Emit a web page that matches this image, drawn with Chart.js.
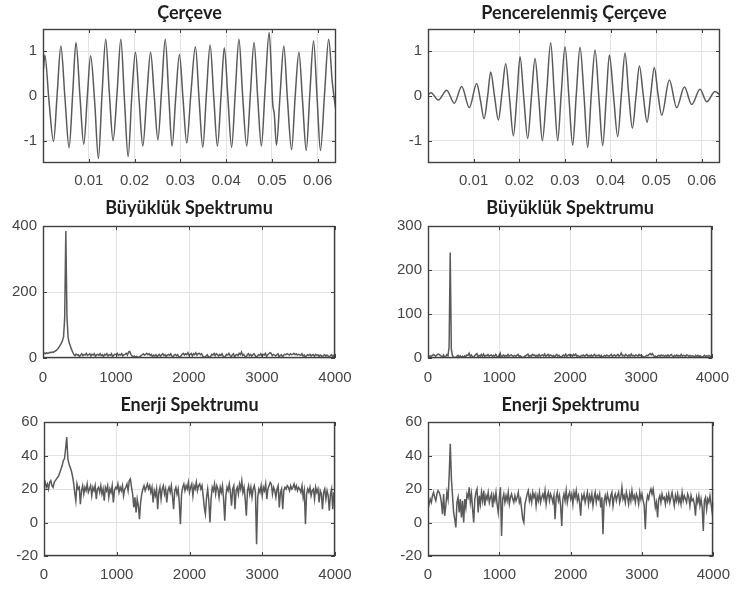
<!DOCTYPE html>
<html>
<head>
<meta charset="utf-8">
<script src="https://cdn.jsdelivr.net/npm/chart.js@4.4.1/dist/chart.umd.min.js"></script>
<style>
  html, body { margin: 0; padding: 0; background: #ffffff; }
  #fig { position: relative; width: 740px; height: 589px; overflow: hidden; background: #ffffff; }
  .cell { position: absolute; }
  canvas { display: block; }
</style>
</head>
<body>
<div id="fig">
  <div class="cell" style="left:0;top:0"><canvas id="frame" width="370" height="195"></canvas></div>
  <div class="cell" style="left:370px;top:0"><canvas id="windowed" width="370" height="195"></canvas></div>
  <div class="cell" style="left:0;top:195px"><canvas id="magRaw" width="370" height="190"></canvas></div>
  <div class="cell" style="left:370px;top:195px"><canvas id="magWin" width="370" height="190"></canvas></div>
  <div class="cell" style="left:0;top:385px"><canvas id="engRaw" width="370" height="204"></canvas></div>
  <div class="cell" style="left:370px;top:385px"><canvas id="engWin" width="370" height="204"></canvas></div>
</div>
<script>
// ---- panel titles ----
const titles = ['Çerçeve', 'Pencerelenmiş Çerçeve', 'Büyüklük Spektrumu', 'Büyüklük Spektrumu', 'Enerji Spektrumu', 'Enerji Spektrumu'];

// ---- tick values ----
const timeTicks = [0.01, 0.02, 0.03, 0.04, 0.05, 0.06];
const waveTicks = [-1, 0, 1];
const freqTicks = [0, 1000, 2000, 3000, 4000];
const magRawTicks = [0, 200, 400];
const magWinTicks = [0, 100, 200, 300];
const energyTicks = [-20, 0, 20, 40, 60];

// ---- frame, time [s] / amplitude pairs (peaks, troughs and crossings) ----
const frame = [
  [0.000125, 0.62], [0.0004, 0.92], [0.0013, -0.10], [0.0023, -1.02], [0.0031, 0.05],
  [0.0039, 1.12], [0.0048, -0.05], [0.0057, -1.16], [0.0065, 0.08],
  [0.0072, 1.20], [0.0081, -0.05], [0.0089, -1.08], [0.0097, 0.02],
  [0.0104, 0.90], [0.0113, -0.15], [0.0121, -1.40], [0.0129, 0.05],
  [0.0137, 1.27], [0.0145, 0.05], [0.0153, -1.00], [0.0162, 0.10],
  [0.0170, 1.27], [0.0178, -0.10], [0.0186, -1.36], [0.0194, 0.00],
  [0.0202, 0.98], [0.0210, -0.10], [0.0218, -1.12], [0.0227, 0.05],
  [0.0235, 0.98], [0.0243, 0.00], [0.0251, -0.98], [0.0259, 0.12],
  [0.0267, 1.27], [0.0275, -0.05], [0.0282, -1.12], [0.0290, -0.02],
  [0.0298, 0.93], [0.0306, -0.08], [0.0314, -1.05], [0.0323, 0.05],
  [0.0333, 1.10], [0.0341, -0.08], [0.0349, -1.15], [0.0357, 0.05],
  [0.0365, 1.14], [0.0373, -0.03], [0.0381, -1.12], [0.0389, 0.02],
  [0.0396, 1.08], [0.0404, -0.06], [0.0412, -1.15], [0.0420, 0.08],
  [0.0428, 1.27], [0.0436, 0.02], [0.0445, -1.12], [0.0453, 0.05],
  [0.0461, 1.20], [0.0469, -0.04], [0.0477, -1.12], [0.0485, 0.12],
  [0.0494, 1.42], [0.0502, -0.20], [0.0505, -0.38], [0.0510, -1.10], [0.0518, 0.05],
  [0.0526, 1.12], [0.0534, -0.08], [0.0543, -1.20], [0.0551, 0.02],
  [0.0559, 0.98], [0.0567, -0.12], [0.0575, -1.22], [0.0583, 0.08],
  [0.0591, 1.23], [0.0599, -0.10], [0.0606, -1.22], [0.0615, 0.05],
  [0.0624, 1.27], [0.0632, 0.30], [0.0640, -0.35]
];

// ---- windowed frame, time [s] / amplitude pairs ----
const windowed = [
  [0.000125, 0.04], [0.00066, 0.07], [0.00226, -0.09], [0.00409, 0.13], [0.00577, -0.16], [0.00738, 0.21], [0.00906, -0.26], [0.01067, 0.28],
  [0.0115, -0.10], [0.01228, -0.51], [0.0131, 0.02], [0.01374, 0.54],
  [0.0146, -0.02], [0.01542, -0.54], [0.0162, 0.05], [0.01703, 0.72],
  [0.0179, -0.08], [0.01871, -0.89], [0.0195, 0.00], [0.02017, 0.88],
  [0.0210, -0.05], [0.02185, -0.95], [0.0227, 0.02], [0.02345, 0.84],
  [0.0243, -0.08], [0.02506, -1.00], [0.0260, 0.08], [0.02689, 1.19],
  [0.0277, 0.00], [0.02842, -1.00], [0.0292, 0.05], [0.03003, 1.10],
  [0.0309, -0.05], [0.03171, -1.10], [0.0325, 0.03], [0.03332, 1.09],
  [0.0342, 0.00], [0.03500, -1.15], [0.0358, 0.05], [0.03661, 1.03],
  [0.0375, -0.10], [0.03829, -1.11], [0.0391, 0.02], [0.03975, 0.92],
  [0.0407, -0.04], [0.04158, -0.91], [0.0424, 0.05], [0.04318, 0.96],
  [0.0440, 0.02], [0.04479, -0.72], [0.0456, 0.00], [0.04633, 0.67],
  [0.0472, 0.00], [0.04801, -0.59], [0.0488, 0.02], [0.04961, 0.64],
  [0.0504, 0.05], [0.05122, -0.43], [0.05290, 0.36], [0.05451, -0.26], [0.05619, 0.20],
  [0.05780, -0.19], [0.05962, 0.15], [0.06109, -0.13], [0.06291, 0.10], [0.0640, 0.02]
];

// ---- spectra: 257 bins from 0 to 4000 Hz, 16 bins (250 Hz) per row ----
const fs = 8000, nfft = 512;

const magRaw = [
  14, 15, 13, 16, 14, 15, 17, 16, 18, 17, 20, 21, 24, 28, 33, 38,
  44, 52, 64, 120, 385, 125, 62, 46, 36, 26, 18, 11, 7, 12, 9, 10,
  4, 9, 13, 7, 11, 9, 14, 8, 10, 13, 6, 11, 9, 13, 5, 10,
  11, 8, 13, 7, 10, 4, 11, 9, 13, 6, 10, 8, 13, 4, 9, 11,
  10, 14, 8, 11, 9, 13, 6, 10, 11, 14, 9, 18, 20, 11, 7, 3,
  6, 2, 5, 3, 1, 4, 7, 10, 13, 9, 11, 14, 10, 13, 8, 11,
  4, 9, 6, 10, 3, 8, 11, 5, 10, 13, 7, 10, 4, 9, 11, 8,
  13, 6, 3, 9, 11, 7, 10, 4, 1, 7, 11, 14, 9, 13, 10, 16,
  8, 11, 14, 6, 13, 10, 16, 9, 13, 14, 10, 13, 6, 3, 2, 6,
  10, 4, 1, 5, 11, 9, 14, 7, 13, 10, 6, 11, 8, 13, 5, 1,
  6, 11, 9, 14, 8, 3, 10, 13, 3, 9, 11, 7, 14, 10, 18, 8,
  11, 5, 2, 9, 13, 7, 11, 6, 10, 13, 8, 0, 6, 10, 8, 13,
  6, 11, 9, 14, 5, 10, 13, 16, 14, 7, 11, 9, 6, 10, 13, 3,
  8, 10, 3, 9, 11, 10, 13, 11, 9, 13, 10, 11, 14, 10, 13, 9,
  11, 10, 8, 13, 6, 9, 1, 7, 10, 8, 11, 6, 9, 10, 5, 11,
  8, 10, 4, 9, 7, 3, 8, 10, 5, 9, 6, 2, 7, 10, 3, 8,
  4
];

const magWin = [
  3, 4, 5, 4, 6, 8, 6, 4, 7, 9, 8, 6, 4, 2, 7, 2,
  3, 8, 5, 25, 240, 20, 6, 2, 1, 1, 4, 6, 2, 5, 1, 4,
  1, 5, 3, 7, 6, 11, 4, 7, 3, 1, 5, 8, 10, 2, 6, 4,
  8, 4, 9, 3, 6, 5, 8, 4, 6, 7, 3, 6, 4, 8, 4, 2,
  6, 11, 0, 5, 7, 4, 6, 4, 8, 4, 6, 7, 5, 4, 6, 4,
  6, 8, 4, 5, 3, 1, 1, 4, 5, 7, 9, 4, 6, 4, 8, 6,
  7, 3, 6, 4, 8, 4, 6, 7, 5, 9, 4, 6, 8, 4, 7, 6,
  4, 6, 1, 6, 8, 4, 6, 3, 1, 5, 7, 4, 9, 4, 6, 8,
  5, 7, 4, 8, 6, 9, 4, 6, 4, 2, 6, 5, 7, 4, 6, 8,
  4, 6, 4, 7, 3, 6, 8, 4, 6, 5, 7, 3, 6, 0, 4, 6,
  4, 7, 5, 4, 6, 8, 3, 6, 7, 4, 6, 8, 4, 6, 11, 5,
  6, 4, 8, 6, 4, 7, 4, 9, 5, 6, 4, 7, 6, 4, 8, 5,
  7, 4, 3, 1, 4, 6, 5, 8, 10, 7, 10, 6, 3, 4, 1, 5,
  6, 4, 7, 5, 6, 4, 6, 4, 7, 4, 6, 8, 5, 3, 6, 4,
  7, 4, 6, 4, 8, 4, 6, 5, 4, 7, 6, 3, 6, 4, 5, 4,
  2, 6, 4, 6, 3, 5, 3, 1, 4, 6, 3, 5, 4, 6, 4, 2,
  4
];

const energyRaw = [
  22, 24, 21, 23, 20, 24, 25, 22, 21, 24, 25, 26, 27, 28, 30, 32,
  34, 37, 38, 44, 51, 38, 35, 33, 31, 28, 24, 18, 13, 23, 20, 21,
  11, 19, 22, 17, 21, 19, 23, 18, 20, 22, 16, 21, 19, 22, 14, 20,
  21, 18, 22, 17, 20, 13, 21, 19, 22, 15, 20, 18, 22, 12, 19, 21,
  20, 23, 18, 21, 19, 22, 16, 20, 21, 23, 19, 25, 26, 21, 17, 9,
  15, 6, 14, 10, 2, 12, 17, 20, 22, 19, 21, 23, 20, 22, 18, 21,
  12, 19, 16, 20, 8, 18, 21, 14, 20, 22, 17, 20, 12, 19, 21, 18,
  22, 16, 8, 19, 21, 17, 20, 12, -1, 17, 21, 23, 19, 22, 20, 24,
  18, 21, 23, 16, 22, 20, 24, 19, 22, 23, 20, 22, 16, 9, 5, 15,
  20, 13, 0, 14, 21, 19, 23, 17, 22, 20, 15, 21, 18, 22, 14, 1,
  16, 21, 19, 23, 18, 10, 20, 22, 8, 19, 21, 17, 23, 20, 25, 18,
  21, 14, 4, 19, 22, 17, 21, 15, 20, 22, 18, -13, 15, 20, 18, 22,
  16, 21, 19, 23, 14, 20, 22, 24, 23, 17, 21, 19, 15, 20, 22, 9,
  18, 20, 8, 19, 21, 20, 22, 21, 19, 22, 20, 21, 23, 20, 22, 19,
  21, 20, 18, 22, 15, 19, -1, 17, 20, 18, 21, 16, 19, 20, 14, 21,
  18, 20, 12, 19, 17, 8, 18, 20, 14, 19, 16, 7, 17, 20, 8, 18,
  12
];

const energyWin = [
  8, 11, 14, 12, 16, 18, 15, 13, 17, 19, 18, 16, 12, 5, 17, 4,
  10, 18, 14, 28, 47, 26, 16, 6, 2, -3, 12, 15, 6, 14, 3, 13,
  0, 14, 9, 17, 15, 21, 12, 17, 8, 0, 14, 18, 20, 6, 16, 11,
  18, 13, 19, 10, 16, 14, 18, 12, 15, 17, 9, 16, 13, 18, 11, 6,
  15, 21, -8, 14, 17, 12, 16, 13, 18, 11, 15, 17, 14, 12, 16, 13,
  15, 18, 12, 14, 8, 2, 0, 11, 14, 17, 19, 13, 16, 12, 18, 15,
  17, 10, 16, 13, 18, 12, 15, 17, 14, 19, 11, 16, 18, 13, 17, 15,
  12, 16, 2, 15, 18, 13, 16, 10, -2, 14, 17, 13, 19, 12, 16, 18,
  14, 17, 11, 18, 15, 19, 13, 16, 12, 4, 16, 14, 17, 12, 15, 18,
  11, 16, 13, 17, 10, 15, 18, 12, 16, 14, 17, 9, 15, -7, 13, 16,
  12, 17, 14, 11, 16, 18, 10, 15, 17, 13, 16, 18, 12, 15, 21, 14,
  16, 12, 18, 15, 11, 17, 13, 19, 14, 16, 12, 17, 15, 11, 18, 14,
  17, 13, 10, -4, 12, 16, 14, 18, 20, 17, 20, 15, 9, 12, 3, 14,
  16, 12, 17, 14, 15, 11, 16, 13, 17, 12, 15, 18, 14, 10, 16, 13,
  17, 12, 15, 11, 18, 13, 16, 14, 12, 17, 15, 10, 16, 13, 14, 11,
  4, 15, 12, 16, 10, 14, 9, -5, 13, 15, 8, 14, 12, 16, 11, 6,
  12
];

// ---- drawing ----
const LINE_COLOR = '#5a5a5a';
const TICK_FONT = { family: "'Liberation Sans', Arial, sans-serif", size: 15, lineHeight: 1.2 };
const TICK_COLOR = '#454545';
const GRID_COLOR = '#e2e2e2';
const BOX_COLOR = '#404040';

const binHz = fs / nfft;
const toSpectrum = arr => arr.map((v, i) => ({ x: i * binHz, y: v }));

// Box around the axes with short inward tick marks on all four sides
const axesBox = {
  id: 'axesBox',
  afterDraw(chart) {
    const { ctx, chartArea: a, scales: { x, y } } = chart;
    ctx.save();
    ctx.strokeStyle = BOX_COLOR;
    ctx.lineWidth = 1;
    ctx.beginPath();
    x.ticks.forEach(t => {
      const p = Math.round(x.getPixelForValue(t.value)) + 0.5;
      ctx.moveTo(p, a.bottom); ctx.lineTo(p, a.bottom - 4);
      ctx.moveTo(p, a.top); ctx.lineTo(p, a.top + 4);
    });
    y.ticks.forEach(t => {
      const p = Math.round(y.getPixelForValue(t.value)) + 0.5;
      ctx.moveTo(a.left, p); ctx.lineTo(a.left + 4, p);
      ctx.moveTo(a.right, p); ctx.lineTo(a.right - 4, p);
    });
    ctx.stroke();
    ctx.lineWidth = 1.4;
    ctx.strokeRect(Math.round(a.left) + 0.5, Math.round(a.top) + 0.5,
      Math.round(a.right - a.left) - 1, Math.round(a.bottom - a.top) - 1);
    ctx.restore();
  }
};

function panel(id, o) {
  new Chart(document.getElementById(id), {
    type: 'line',
    data: {
      datasets: [{
        data: o.points,
        borderColor: LINE_COLOR,
        borderWidth: 1.5,
        pointRadius: 0,
        fill: false,
        tension: 0,
        cubicInterpolationMode: o.smooth ? 'monotone' : 'default'
      }]
    },
    options: {
      responsive: false,
      animation: false,
      devicePixelRatio: 1,
      events: [],
      layout: { padding: { left: 0, top: o.padTop, right: o.padRight, bottom: o.padBottom } },
      plugins: {
        legend: { display: false },
        tooltip: { enabled: false },
        title: {
          display: true,
          text: o.title,
          fullSize: false,
          color: '#1e1e1e',
          font: { family: "Lato, 'Open Sans', sans-serif", size: 18, weight: 'bold', lineHeight: 1 },
          padding: { top: 0, bottom: o.titleGap }
        }
      },
      scales: {
        x: {
          type: 'linear',
          min: o.xMin, max: o.xMax,
          afterBuildTicks: s => { s.ticks = o.xTicks.map(value => ({ value })); },
          afterFit: s => { s.height = o.xAxisHeight; },
          ticks: { font: TICK_FONT, color: TICK_COLOR, padding: o.xLabelPad, maxRotation: 0, autoSkip: false, callback: v => String(v) },
          grid: { color: GRID_COLOR, lineWidth: 1, drawTicks: false },
          border: { display: false }
        },
        y: {
          type: 'linear',
          min: o.yMin, max: o.yMax,
          afterBuildTicks: s => { s.ticks = o.yTicks.map(value => ({ value })); },
          afterFit: s => { s.width = o.yAxisWidth; },
          ticks: { font: TICK_FONT, color: TICK_COLOR, padding: 6, autoSkip: false, callback: v => String(v) },
          grid: { color: GRID_COLOR, lineWidth: 1, drawTicks: false },
          border: { display: false }
        }
      }
    },
    plugins: [axesBox]
  });
}

const timeAxis = { xMin: 0, xMax: 0.064, xTicks: timeTicks, yMin: -1.5, yMax: 1.5, yTicks: waveTicks, smooth: true };
const freqAxis = { xMin: 0, xMax: 4000, xTicks: freqTicks, smooth: false };
const topRow = { padTop: 4, titleGap: 7, padBottom: 2, xAxisHeight: 30, xLabelPad: 9 };
const midRow = { padTop: 4, titleGap: 9, padBottom: 2, xAxisHeight: 25, xLabelPad: 11 };
const lowRow = { padTop: 11, titleGap: 8, padBottom: 3, xAxisHeight: 30, xLabelPad: 10 };

panel('frame', { ...timeAxis, ...topRow, title: titles[0], points: frame, yAxisWidth: 43, padRight: 34 });
panel('windowed', { ...timeAxis, ...topRow, title: titles[1], points: windowed, yAxisWidth: 58, padRight: 20 });
panel('magRaw', { ...freqAxis, ...midRow, title: titles[2], points: toSpectrum(magRaw), yMin: 0, yMax: 400, yTicks: magRawTicks, yAxisWidth: 43, padRight: 35 });
panel('magWin', { ...freqAxis, ...midRow, title: titles[3], points: toSpectrum(magWin), yMin: 0, yMax: 300, yTicks: magWinTicks, yAxisWidth: 58, padRight: 20 });
panel('engRaw', { ...freqAxis, ...lowRow, title: titles[4], points: toSpectrum(energyRaw), yMin: -20, yMax: 60, yTicks: energyTicks, yAxisWidth: 44, padRight: 35 });
panel('engWin', { ...freqAxis, ...lowRow, title: titles[5], points: toSpectrum(energyWin), yMin: -20, yMax: 60, yTicks: energyTicks, yAxisWidth: 58, padRight: 20 });
</script>
</body>
</html>
